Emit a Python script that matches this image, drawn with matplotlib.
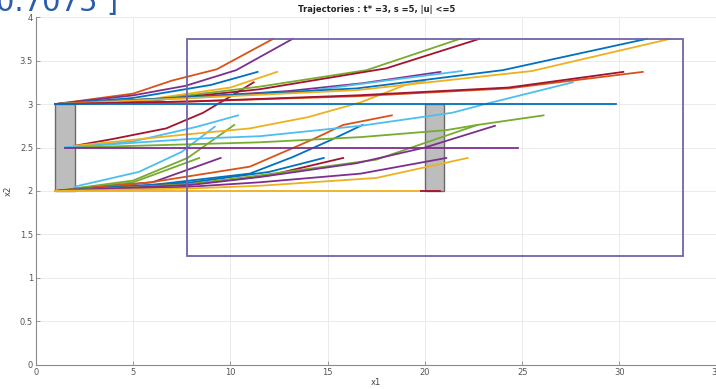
import matplotlib.pyplot as plt
from matplotlib.patches import Rectangle

# matlab default line colours
blue = '#0072BD'
orange = '#D95319'
yellow = '#EDB120'
purple = '#7E2F8E'
green = '#77AC30'
lblue = '#4DBEEE'
dred = '#A2142F'

# trajectories starting at x2 = 3
from3_x = [
    [1, 5, 7, 9.3, 12.2],
    [1, 5, 7.7, 10.3, 13.2],
    [1, 5, 9, 11.4],
    [1, 6, 10, 12.4],
    [1, 6, 11.5, 17, 21.8],
    [1, 6, 11.5, 18, 22.8],
    [1, 8, 13, 16.8, 20.8],
    [1, 8, 14, 18, 21.9],
    [1, 8, 16.5, 24, 31.4],
    [1, 8, 16.5, 25.5, 32.6],
    [1, 8, 16.5, 24.3, 31.2],
    [1, 8, 16.5, 24.3, 30.2],
    [1, 29.8],
]
from3_y = [
    [3, 3.12, 3.27, 3.40, 3.75],
    [3, 3.10, 3.21, 3.39, 3.75],
    [3, 3.07, 3.22, 3.37],
    [3, 3.06, 3.19, 3.37],
    [3, 3.05, 3.20, 3.39, 3.75],
    [3, 3.04, 3.17, 3.41, 3.75],
    [3, 3.08, 3.15, 3.24, 3.37],
    [3, 3.07, 3.15, 3.27, 3.38],
    [3, 3.08, 3.18, 3.39, 3.75],
    [3, 3.07, 3.16, 3.38, 3.75],
    [3, 3.03, 3.09, 3.18, 3.37],
    [3, 3.03, 3.10, 3.19, 3.37],
    [3, 3],
]
from3_c = [orange, purple, blue, yellow, green, dred, purple, lblue,
           blue, yellow, orange, dred, blue]

# trajectories starting at x2 = 2.5
from25_x = [
    [2, 4, 6.7, 8.6, 10.1, 11.2],
    [1.5, 5, 8.3, 10.4],
    [2, 7.7, 11, 14, 16.7, 19, 20],
    [1.5, 8, 11.5, 16.7, 21.4, 23.1, 27.6],
    [2, 11.5, 16.7, 21.1, 22.7, 26.1],
    [1.5, 24.8],
]
from25_y = [
    [2.52, 2.60, 2.72, 2.90, 3.10, 3.25],
    [2.50, 2.57, 2.74, 2.87],
    [2.52, 2.65, 2.72, 2.85, 3.02, 3.22, 3.26],
    [2.50, 2.60, 2.63, 2.75, 2.90, 3.00, 3.25],
    [2.50, 2.56, 2.62, 2.70, 2.76, 2.87],
    [2.50, 2.50],
]
from25_c = [dred, lblue, yellow, lblue, green, purple]

# trajectories starting at x2 = 2
from2_x = [
    [2, 5.3, 7.5, 9.2],
    [1, 5, 7.8, 10.2],
    [1, 5, 8.4],
    [1, 6, 9.5],
    [1, 5.9, 11, 14.2, 15.8, 18.3],
    [1, 6, 11, 13.2, 15.2, 16.8],
    [1, 8, 12, 14.8],
    [1, 8, 12, 15.8],
    [1, 8, 11.5, 17.5, 19.7, 22.7],
    [1, 8, 11.5, 16.5, 20, 23.6],
    [1, 8, 11.5, 16.7, 21.1],
    [1, 8, 11.5, 17.5, 22.2],
    [1, 19.8],
    [19.8, 20.8],
]
from2_y = [
    [2.05, 2.22, 2.45, 2.74],
    [2, 2.12, 2.38, 2.76],
    [2, 2.10, 2.38],
    [2, 2.10, 2.38],
    [2, 2.10, 2.28, 2.59, 2.76, 2.87],
    [2, 2.07, 2.20, 2.39, 2.59, 2.76],
    [2, 2.10, 2.22, 2.38],
    [2, 2.08, 2.18, 2.38],
    [2, 2.08, 2.18, 2.36, 2.53, 2.76],
    [2, 2.07, 2.16, 2.32, 2.50, 2.75],
    [2, 2.05, 2.10, 2.20, 2.38],
    [2, 2.03, 2.06, 2.15, 2.38],
    [2, 2],
    [2, 2],
]
from2_c = [lblue, green, green, purple, orange, blue, blue, dred,
           green, purple, purple, yellow, yellow, dred]

# boxes: (x0, x1, y0, y1)
start_box = (1, 2, 2, 3)
gate_box = (20, 21, 2, 3)
target_box = (7.75, 33.25, 1.25, 3.75)

fig = plt.figure(figsize=(7.16, 3.89), dpi=100)
ax = fig.add_axes([0.050, 0.062, 0.951, 0.894])

for b in (start_box, gate_box):
    ax.add_patch(Rectangle((b[0], b[2]), b[1] - b[0], b[3] - b[2],
                           facecolor='#bdbdbd', edgecolor='#6a6a6a', lw=1.0, zorder=2))
ax.add_patch(Rectangle((target_box[0], target_box[2]), target_box[1] - target_box[0],
                       target_box[3] - target_box[2], fill=False,
                       edgecolor='#6e64a8', lw=1.3, zorder=4))

for xs_list, ys_list, cols in ((from2_x, from2_y, from2_c),
                               (from25_x, from25_y, from25_c),
                               (from3_x, from3_y, from3_c)):
    for xs, ys, c in zip(xs_list, ys_list, cols):
        ax.plot(xs, ys, color=c, lw=1.3, zorder=3)

ax.set_xlim(0, 35)
ax.set_ylim(0, 4)
ax.set_xticks(range(0, 36, 5))
ax.set_yticks([0, 0.5, 1, 1.5, 2, 2.5, 3, 3.5, 4])
ax.set_yticklabels(['0', '0.5', '1', '1.5', '2', '2.5', '3', '3.5', '4'])
ax.grid(True, color='#e8e8e8', lw=0.6)
ax.set_axisbelow(True)
for s in ('top', 'right'):
    ax.spines[s].set_visible(False)
for s in ('left', 'bottom'):
    ax.spines[s].set_color('#8a8a8a')
    ax.spines[s].set_linewidth(0.8)
ax.tick_params(direction='in', length=3, width=0.6, colors='#8a8a8a',
               labelsize=6, labelcolor='#555555', pad=2)

ax.set_xlabel('x1', fontsize=6, color='#444444', labelpad=1)
ax.set_ylabel('x2', fontsize=6, color='#444444', labelpad=5)
ax.set_title('Trajectories : t* =3, s =5, |u| <=5', fontsize=6,
             fontweight='bold', color='#222222', pad=4)

# piece of text cut off at top of the screenshot
fig.text(-0.006, 0.972, '0.7075 ]', fontsize=21, color='#2a5caa',
         va='baseline', ha='left')

fig.savefig('out.png', dpi=100)
